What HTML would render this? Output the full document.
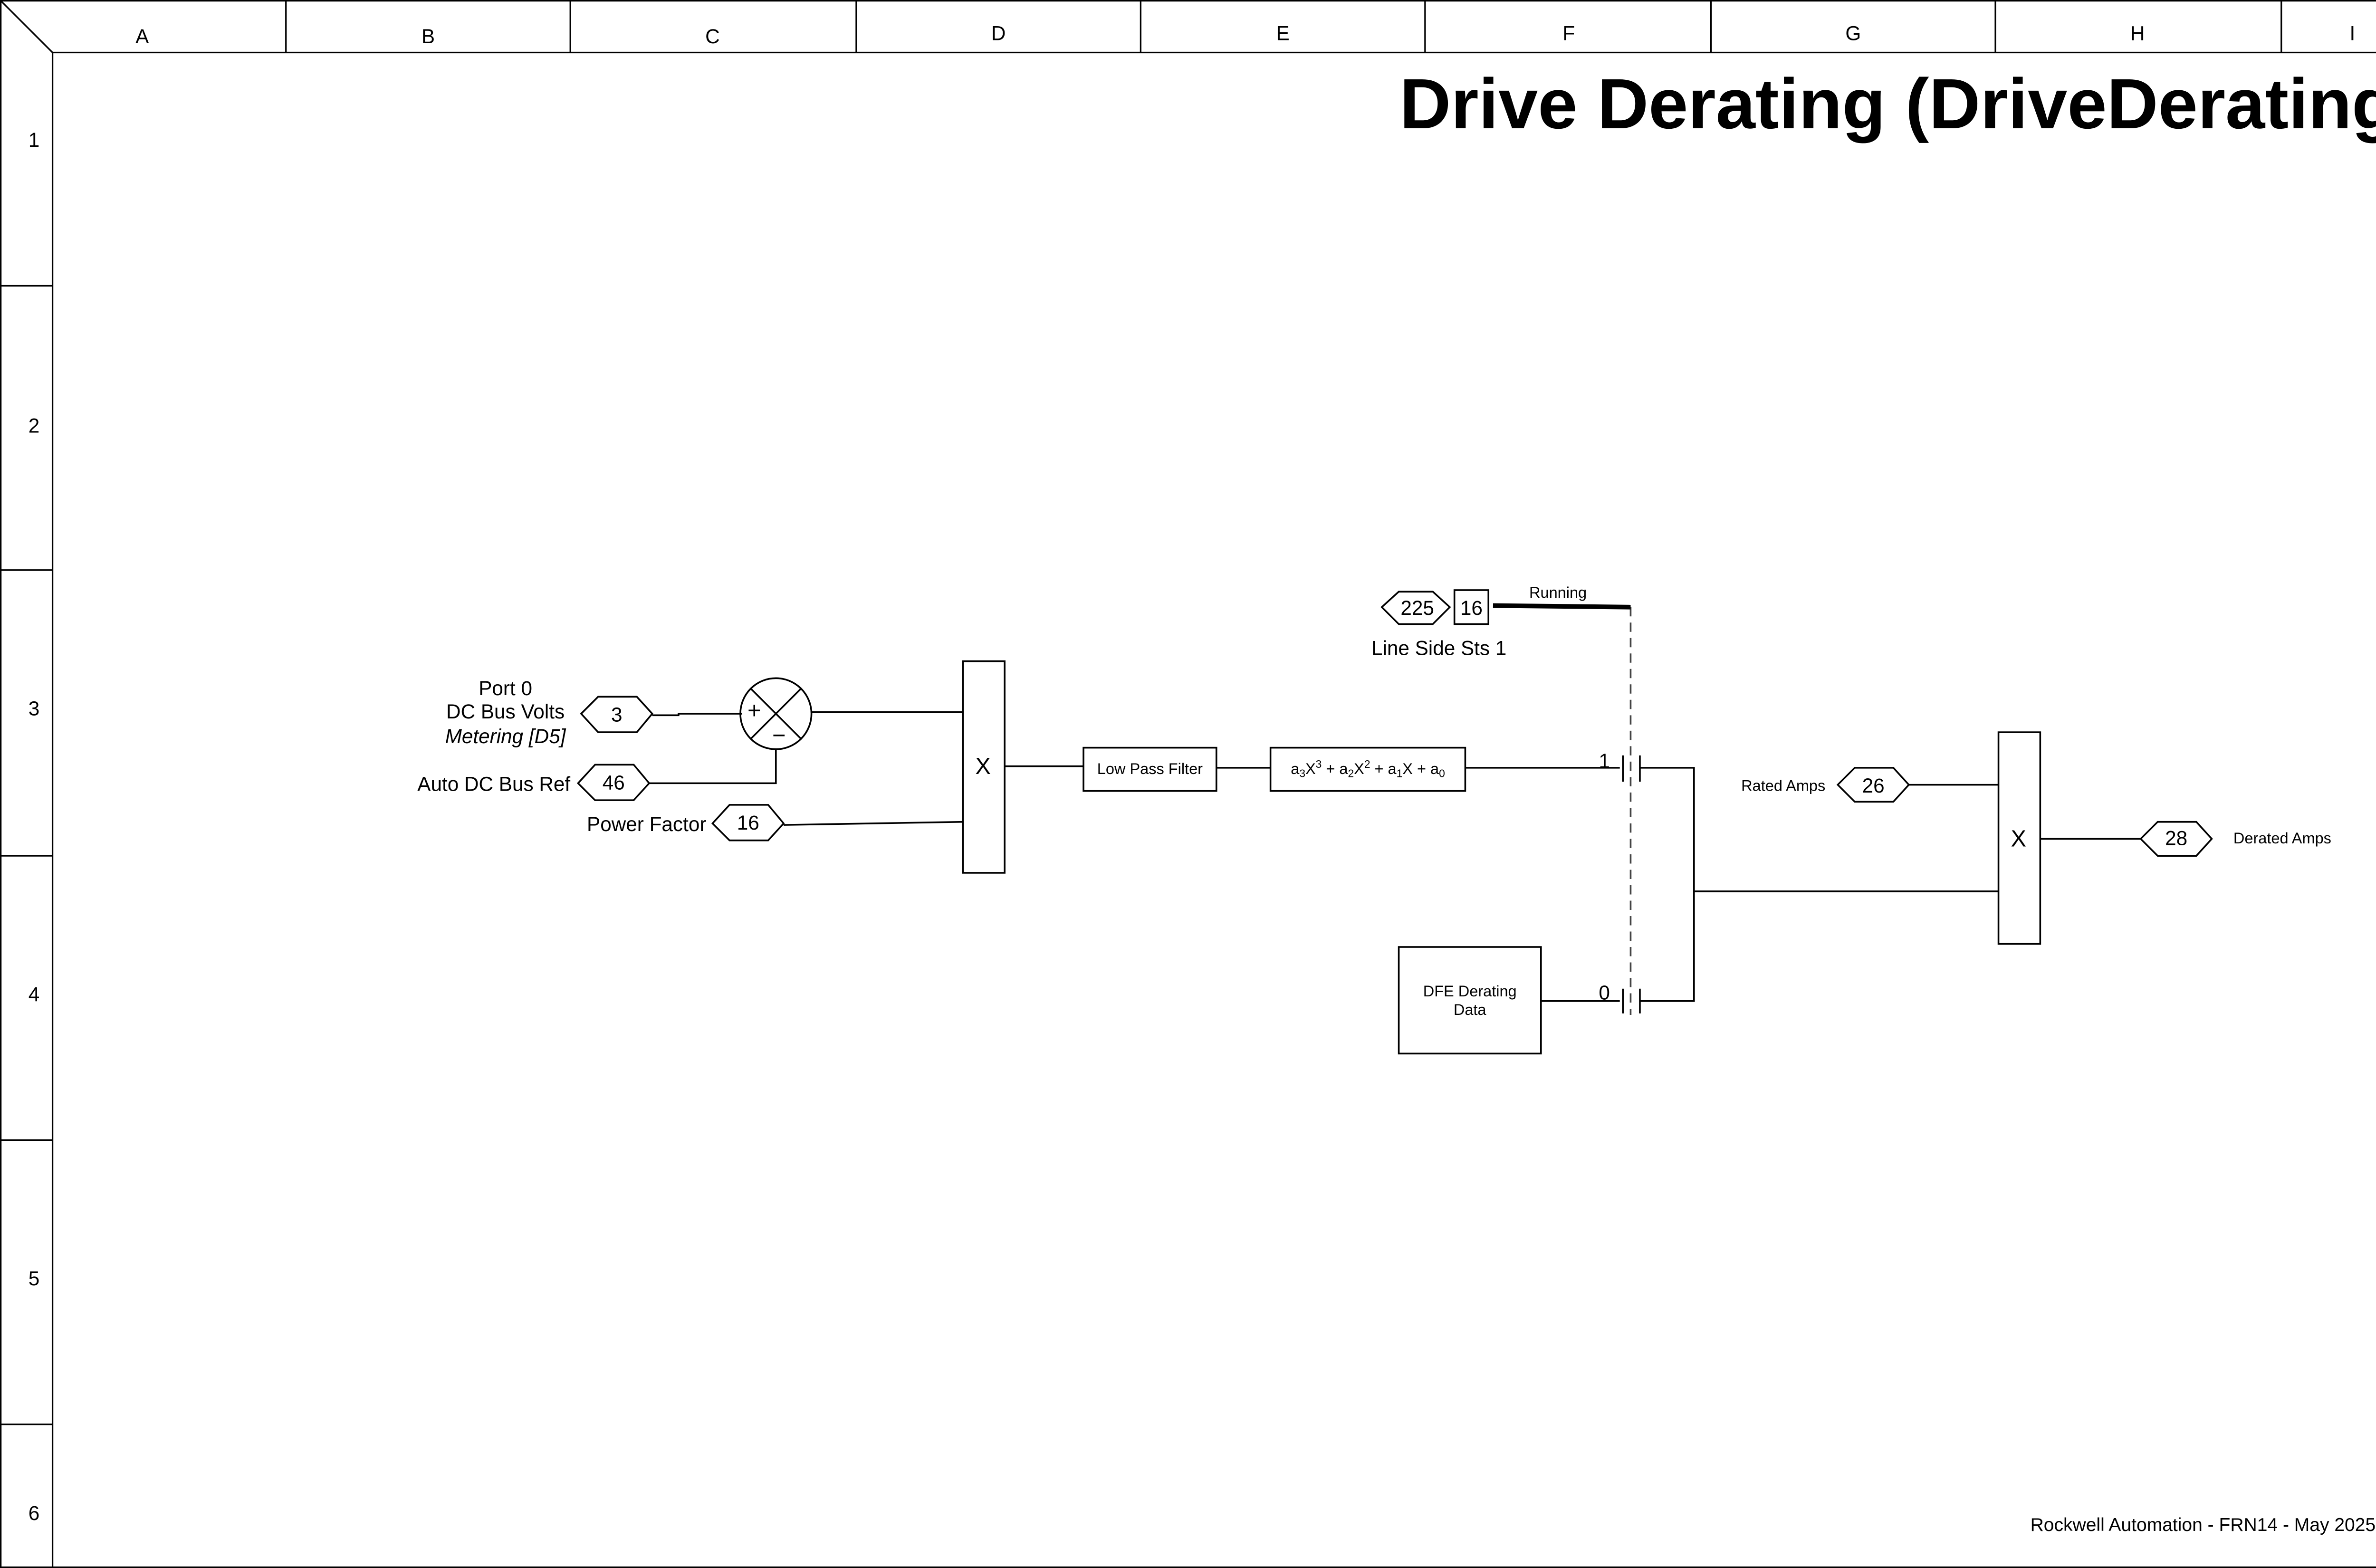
<!DOCTYPE html>
<html><head><meta charset="utf-8"><style>
html,body{margin:0;padding:0;background:#fff;width:5100px;height:3300px;overflow:hidden;}
svg{display:block;position:absolute;left:0;top:0;}
text{font-family:"Liberation Sans",Arial,sans-serif;fill:#000;}
</style></head><body>
<svg width="5100" height="3300" viewBox="0 0 1568 1015" preserveAspectRatio="none" xmlns="http://www.w3.org/2000/svg">
<g fill="none" stroke="#000" stroke-width="1">
<rect x="0.5" y="0.5" width="1567" height="1014"/>
<line x1="34" y1="34" x2="1568" y2="34"/>
<line x1="34" y1="34" x2="34" y2="1015"/>
<line x1="0" y1="0" x2="34" y2="34"/>
<line x1="185" y1="0" x2="185" y2="34"/><line x1="369" y1="0" x2="369" y2="34"/>
<line x1="554" y1="0" x2="554" y2="34"/><line x1="738" y1="0" x2="738" y2="34"/>
<line x1="922" y1="0" x2="922" y2="34"/><line x1="1107" y1="0" x2="1107" y2="34"/>
<line x1="1291" y1="0" x2="1291" y2="34"/><line x1="1476" y1="0" x2="1476" y2="34"/>
<line x1="0" y1="185" x2="34" y2="185"/><line x1="0" y1="369" x2="34" y2="369"/>
<line x1="0" y1="554" x2="34" y2="554"/><line x1="0" y1="738" x2="34" y2="738"/>
<line x1="0" y1="922" x2="34" y2="922"/>
</g>
<g font-size="13" text-anchor="middle">
<text x="92" y="28">A</text><text x="277" y="28">B</text><text x="461" y="28">C</text>
<text x="646" y="26">D</text><text x="830" y="26">E</text><text x="1015" y="26">F</text>
<text x="1199" y="26">G</text><text x="1383" y="26">H</text><text x="1522" y="26">I</text>
<text x="22" y="95">1</text><text x="22" y="280">2</text><text x="22" y="463">3</text>
<text x="22" y="648">4</text><text x="22" y="832">5</text><text x="22" y="984">6</text>
</g>
<text x="1565" y="83" font-size="46" font-weight="bold" text-anchor="end">Drive Derating (DriveDerating)</text>
<text x="1537" y="991" font-size="12" text-anchor="end">Rockwell Automation - FRN14 - May 2025</text>

<g fill="none" stroke="#000" stroke-width="1.1">
<polygon points="376,462 387,451 412,451 422,462 412,474 387,474"/>
<polyline points="422,463 439,463 439,462 480,462"/>
<ellipse cx="502" cy="462" rx="23" ry="23"/>
<line x1="486" y1="446" x2="518" y2="478"/><line x1="518" y1="446" x2="486" y2="478"/>
<line x1="525" y1="461" x2="623" y2="461"/>
<polygon points="374,507 385,495 410,495 420,507 410,518 385,518"/>
<polyline points="420,507 502,507 502,485"/>
<polygon points="461,533 472,521 497,521 507,533 497,544 472,544"/>
<line x1="507" y1="534" x2="623" y2="532"/>
<rect x="623" y="428" width="27" height="137"/>
<line x1="650" y1="496" x2="701" y2="496"/>
<rect x="701" y="484" width="86" height="28"/>
<line x1="787" y1="497" x2="822" y2="497"/>
<rect x="822" y="484" width="126" height="28"/>
<line x1="948" y1="497" x2="1048" y2="497"/>
<line x1="1050" y1="489" x2="1050" y2="506"/><line x1="1061" y1="489" x2="1061" y2="506"/>
<polyline points="1061,497 1096,497 1096,648 1061,648"/>
<line x1="1096" y1="577" x2="1293" y2="577"/>
<line x1="1050" y1="640" x2="1050" y2="656"/><line x1="1061" y1="640" x2="1061" y2="656"/>
<rect x="905" y="613" width="92" height="69"/>
<line x1="997" y1="648" x2="1048" y2="648"/>
<line x1="1055" y1="393" x2="1055" y2="657" stroke-dasharray="6,4" stroke="#444"/>
<polygon points="894,393 905,383 927,383 938,393 927,404 905,404"/>
<rect x="941" y="382" width="22" height="22"/>
<line x1="966" y1="392" x2="1055" y2="393" stroke-width="3"/>
<polygon points="1189,508 1200,497 1225,497 1235,508 1225,519 1200,519"/>
<line x1="1235" y1="508" x2="1293" y2="508"/>
<rect x="1293" y="474" width="27" height="137"/>
<line x1="1320" y1="543" x2="1385" y2="543"/>
<polygon points="1385,543 1396,532 1421,532 1431,543 1421,554 1396,554"/>
</g>

<g font-size="13">
<text x="327" y="450" text-anchor="middle">Port 0</text>
<text x="327" y="465" text-anchor="middle">DC Bus Volts</text>
<text x="327" y="481" text-anchor="middle" font-style="italic">Metering [D5]</text>
<text x="369" y="512" text-anchor="end">Auto DC Bus Ref</text>
<text x="457" y="538" text-anchor="end">Power Factor</text>
<text x="399" y="467" text-anchor="middle">3</text>
<text x="397" y="511" text-anchor="middle">46</text>
<text x="484" y="537" text-anchor="middle">16</text>
<text x="488" y="465" text-anchor="middle" font-size="15">+</text>
<text x="504" y="481" text-anchor="middle" font-size="15">−</text>
<text x="636" y="501" text-anchor="middle" font-size="15">X</text>
<text x="1306" y="548" text-anchor="middle" font-size="15">X</text>
<text x="917" y="398" text-anchor="middle">225</text>
<text x="952" y="398" text-anchor="middle">16</text>
<text x="931" y="424" text-anchor="middle">Line Side Sts 1</text>
<text x="1038" y="497" text-anchor="middle">1</text>
<text x="1038" y="647" text-anchor="middle">0</text>
<text x="1212" y="513" text-anchor="middle">26</text>
<text x="1408" y="547" text-anchor="middle">28</text>
</g>
<g font-size="10">
<text x="744" y="501" text-anchor="middle">Low Pass Filter</text>
<text x="885" y="501" text-anchor="middle">a<tspan font-size="7" dy="2">3</tspan><tspan dy="-2">X</tspan><tspan font-size="7" dy="-4">3</tspan><tspan dy="4"> + a</tspan><tspan font-size="7" dy="2">2</tspan><tspan dy="-2">X</tspan><tspan font-size="7" dy="-4">2</tspan><tspan dy="4"> + a</tspan><tspan font-size="7" dy="2">1</tspan><tspan dy="-2">X + a</tspan><tspan font-size="7" dy="2">0</tspan></text>
<text x="951" y="645" text-anchor="middle">DFE Derating</text>
<text x="951" y="657" text-anchor="middle">Data</text>
<text x="1008" y="387" text-anchor="middle">Running</text>
<text x="1181" y="512" text-anchor="end">Rated Amps</text>
<text x="1445" y="546">Derated Amps</text>
</g>
</svg>
</body></html>
